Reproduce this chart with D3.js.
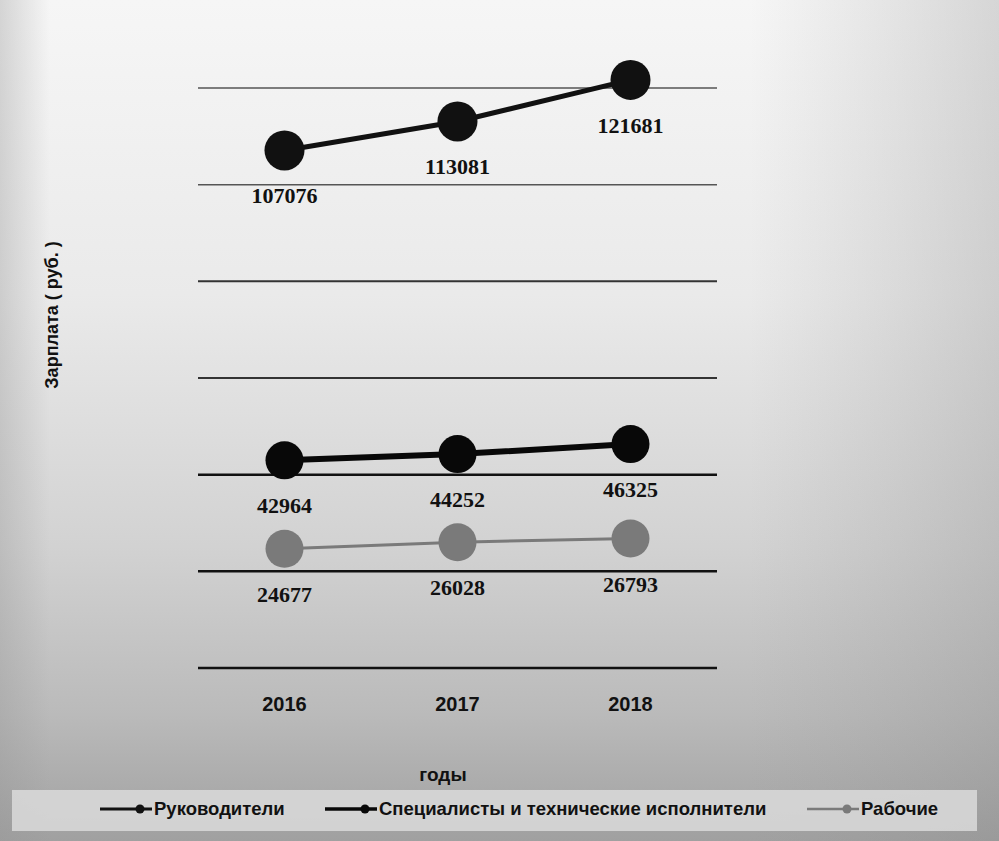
<!DOCTYPE html>
<html>
<head>
<meta charset="utf-8">
<script src="https://cdn.jsdelivr.net/npm/d3@7/dist/d3.min.js"></script>
<style>
  html, body { margin: 0; padding: 0; background: #fff; }
  svg { display: block; }
</style>
</head>
<body>
<svg id="chart" width="999" height="841"></svg>
<script>
// ---- data ----
const years = ["2016", "2017", "2018"];
const seriesNames = ["Руководители", "Специалисты и технические исполнители", "Рабочие"];
const managers = [107076, 113081, 121681];
const specialists = [42964, 44252, 46325];
const workers = [24677, 26028, 26793];
const yTicks = [0, 20000, 40000, 60000, 80000, 100000, 120000];
const yTitle = "Зарплата ( руб. )";
const xTitle = "годы";

const series = [
  { name: seriesNames[0], values: managers, color: "#111", width: 5, r: 20 },
  { name: seriesNames[1], values: specialists, color: "#080808", width: 6, r: 19 },
  { name: seriesNames[2], values: workers, color: "#7a7a7a", width: 3, r: 19 }
];

const W = 999, H = 841;
const svg = d3.select("#chart");

// background gradient
const defs = svg.append("defs");
const g1 = defs.append("linearGradient").attr("id", "bg").attr("x1", 0).attr("y1", 0).attr("x2", 0).attr("y2", 1);
[[0, "#f6f6f6"], [0.35, "#eaeaea"], [0.65, "#d2d2d2"], [0.85, "#bababa"], [1, "#a0a0a0"]]
  .forEach(([o, c]) => g1.append("stop").attr("offset", o).attr("stop-color", c));
const g2 = defs.append("linearGradient").attr("id", "side").attr("x1", 0).attr("y1", 0).attr("x2", 1).attr("y2", 0);
[[0, "rgba(150,150,150,0.35)"], [0.05, "rgba(150,150,150,0)"], [0.75, "rgba(150,150,150,0)"], [1, "rgba(140,140,140,0.3)"]]
  .forEach(([o, c]) => g2.append("stop").attr("offset", o).attr("stop-color", c));

svg.append("rect").attr("width", W).attr("height", H).attr("fill", "url(#bg)");
svg.append("rect").attr("width", W).attr("height", H).attr("fill", "url(#side)");

// scales
const x = d3.scaleBand().domain(years).range([198, 717]);
const y = d3.scaleLinear().domain([0, 120000]).range([668, 88]);
const cx = d => x(d) + x.bandwidth() / 2;

// gridlines
svg.append("g").selectAll("line").data(yTicks).join("line")
  .attr("x1", x.range()[0]).attr("x2", x.range()[1])
  .attr("y1", d => y(d)).attr("y2", d => y(d))
  .attr("stroke", d => d >= 100000 ? "#555" : (d >= 60000 ? "#333" : "#111"))
  .attr("stroke-width", d => d >= 100000 ? 1.5 : (d >= 60000 ? 2 : 2.5));

// x axis labels
const xAxis = d3.axisBottom(x).tickSize(0).tickPadding(0);
const xg = svg.append("g").attr("transform", "translate(0,668)").call(xAxis);
xg.select(".domain").remove();
xg.selectAll("text")
  .attr("y", 43).attr("dy", 0)
  .attr("font-family", "'Liberation Sans', Arial, sans-serif")
  .attr("font-weight", "bold").attr("font-size", 20).attr("fill", "#111");

// lines and markers
const line = d3.line().x((d, i) => cx(years[i])).y(d => y(d));
series.forEach(s => {
  const g = svg.append("g");
  g.append("path").datum(s.values).attr("d", line)
    .attr("fill", "none").attr("stroke", s.color).attr("stroke-width", s.width);
  g.selectAll("circle").data(s.values).join("circle")
    .attr("cx", (d, i) => cx(years[i])).attr("cy", d => y(d)).attr("r", s.r)
    .attr("fill", s.color);
  g.selectAll("text").data(s.values).join("text")
    .attr("x", (d, i) => cx(years[i])).attr("y", d => y(d) + 53)
    .attr("text-anchor", "middle")
    .attr("font-family", "'Liberation Serif', 'Times New Roman', serif")
    .attr("font-weight", "bold").attr("font-size", 22).attr("fill", "#111")
    .text(d => d);
});

// axis titles
svg.append("text")
  .attr("transform", "translate(58,315) rotate(-90)")
  .attr("text-anchor", "middle")
  .attr("font-family", "'Liberation Sans', Arial, sans-serif")
  .attr("font-weight", "bold").attr("font-size", 18).attr("fill", "#111")
  .text(yTitle);

svg.append("text")
  .attr("x", 443).attr("y", 781)
  .attr("text-anchor", "middle")
  .attr("font-family", "'Liberation Sans', Arial, sans-serif")
  .attr("font-weight", "bold").attr("font-size", 19).attr("fill", "#111")
  .text(xTitle);

// legend
svg.append("rect").attr("x", 12).attr("y", 790).attr("width", 965).attr("height", 41)
  .attr("fill", "#dadada").attr("opacity", 0.85);
const legendX = [100, 325, 807];
const lg = svg.append("g").selectAll("g").data(series).join("g")
  .attr("transform", (d, i) => `translate(${legendX[i]},809)`);
lg.append("line").attr("x1", 0).attr("x2", 52).attr("y1", 0).attr("y2", 0)
  .attr("stroke", d => d.color).attr("stroke-width", d => Math.max(2.5, d.width * 0.6));
lg.append("circle").attr("cx", 40).attr("cy", 0).attr("r", 4.5).attr("fill", d => d.color);
lg.append("text").attr("x", 54).attr("y", 6)
  .attr("font-family", "'Liberation Sans Narrow', 'Liberation Sans', Arial, sans-serif")
  .attr("font-weight", "bold").attr("font-size", 18.5).attr("fill", "#111")
  .text(d => d.name);
</script>
</body>
</html>
